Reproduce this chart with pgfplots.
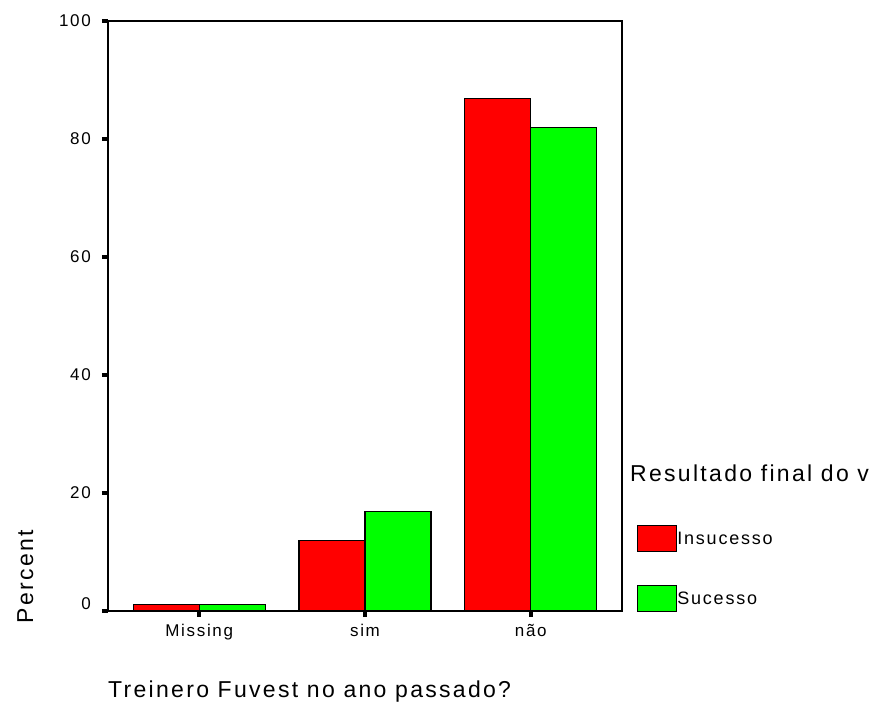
\documentclass[border=0pt]{standalone}
\usepackage{pgfplots}
\pgfplotsset{compat=1.18}
\usepackage{fontspec}
\setmainfont{Liberation Sans}[LetterSpace=10]
\definecolor{spssred}{RGB}{255,0,0}
\definecolor{spssgreen}{RGB}{0,255,0}
\begin{document}
\begin{tikzpicture}
\path[use as bounding box] (0pt,0pt) rectangle (883pt,715pt);
\begin{axis}[
  at={(108pt,104pt)}, anchor=south west,
  scale only axis, width=514pt, height=590pt,
  ybar=0pt, bar width=66pt,
  xmin=-0.55, xmax=2.55, ymin=0, ymax=100,
  xtick={0,1,2}, xticklabels={Missing,sim,não},
  ytick={0,20,40,60,80,100},
  yticklabels={\raisebox{15pt}{0},20,40,60,80,100},
  /pgf/number format/assume math mode=true,
  tick pos=left, tick align=outside,
  major tick length=6pt,
  tick style={line width=4pt, black},
  axis line style={line width=1.5pt, black},
  ticklabel style={font=\fontsize{17}{20}\selectfont},
  yticklabel style={anchor=east, inner sep=0pt, xshift=-11pt},
  xticklabel style={anchor=north, inner sep=0pt, yshift=-7pt},
  xlabel={Treinero Fuvest no ano passado?},
  ylabel={Percent},
  label style={font=\fontsize{23}{26}\selectfont},
  xlabel style={at={(axis description cs:0,-0.137)}, anchor=west, inner sep=0pt},
  ylabel style={at={(axis description cs:-0.161,0.058)}, anchor=center, inner sep=0pt},
  legend image code/.code={\draw[#1, line width=1.2pt] (0pt,-13pt) rectangle (39pt,13pt);},
  legend style={draw=none, fill=none, at={(axis description cs:1.029,0.146)}, anchor=north west,
    font=\fontsize{18}{20}\selectfont, row sep=33pt, inner sep=0pt,
    nodes={inner sep=0pt}, cells={anchor=west}, /tikz/every even column/.append style={column sep=1pt}},
  clip=false,
]
\addplot[fill=spssred, draw=black, line width=1.2pt] coordinates {(0,1.1) (1,12.0) (2,86.8)};
\addplot[fill=spssgreen, draw=black, line width=1.2pt] coordinates {(0,1.1) (1,16.8) (2,82.0)};
\legend{Insucesso,Sucesso}
\node[anchor=west, inner sep=0pt, font=\fontsize{23}{26}\selectfont] at (axis description cs:1.0156,0.234) {Resultado final do v};
\end{axis}
\end{tikzpicture}
\end{document}
